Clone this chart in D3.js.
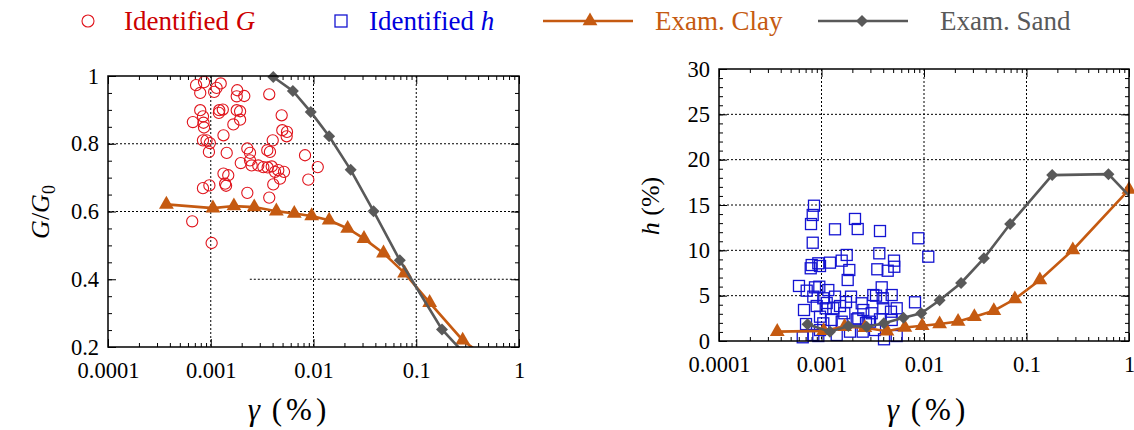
<!DOCTYPE html>
<html>
<head>
<meta charset="utf-8">
<script src="https://cdn.jsdelivr.net/npm/d3@7"></script>
<style>
  body { margin: 0; background: #fff; }
</style>
</head>
<body>
<div id="chart"></div>
<script>
// x axis (shear strain, %)
var gammaTicks = [0.0001, 0.001, 0.01, 0.1, 1];
var gammaLabels = ["0.0001", "0.001", "0.01", "0.1", "1"];

// left panel y axis
var ratioTicks = [0.2, 0.4, 0.6, 0.8, 1];
var ratioLabels = ["0.2", "0.4", "0.6", "0.8", "1"];
// right panel y axis
var dampTicks = [0, 5, 10, 15, 20, 25, 30];
var dampLabels = ["0", "5", "10", "15", "20", "25", "30"];

// identified G/G0 (red circles)
var gammaG = [0.00072, 0.00086, 0.00079, 0.00108, 0.00114, 0.00125, 0.00181, 0.00179, 0.00212, 0.00371,
  0.00079, 0.00084, 0.00067, 0.00085, 0.00086, 0.00121, 0.00131, 0.0012, 0.00179, 0.00193,
  0.00193, 0.00166, 0.0049, 0.00497, 0.00552, 0.00548, 0.00401, 0.00133, 0.00084, 0.00091,
  0.00098, 0.00096, 0.00143, 0.00227, 0.00241, 0.00355, 0.00377, 0.00827, 0.011, 0.00196,
  0.00241, 0.0025, 0.0029, 0.00325, 0.00358, 0.00392, 0.00422, 0.00454, 0.00516, 0.00472,
  0.00406, 0.0089, 0.00133, 0.00148, 0.00138, 0.00141, 0.00084, 0.00097, 0.00227, 0.00371,
  0.00066, 0.00102];
var ratioG = [0.973, 0.982, 0.950, 0.953, 0.965, 0.978, 0.958, 0.940, 0.941, 0.946,
  0.899, 0.881, 0.864, 0.862, 0.848, 0.899, 0.901, 0.891, 0.899, 0.896,
  0.871, 0.857, 0.884, 0.840, 0.835, 0.822, 0.810, 0.825, 0.810, 0.810,
  0.802, 0.776, 0.773, 0.786, 0.773, 0.781, 0.776, 0.766, 0.731, 0.743,
  0.751, 0.736, 0.736, 0.731, 0.730, 0.733, 0.717, 0.722, 0.717, 0.697,
  0.680, 0.694, 0.712, 0.707, 0.682, 0.676, 0.669, 0.677, 0.655, 0.641,
  0.571, 0.507];

// identified h (blue squares)
var gammaH = [0.000845, 0.000821, 0.00079, 0.000821, 0.001354, 0.002122, 0.002256, 0.003721, 0.0088, 0.01101,
  0.000802, 0.000931, 0.000785, 0.000967, 0.00121, 0.001574, 0.001762, 0.001867, 0.001801, 0.003664,
  0.003503, 0.004425, 0.005097, 0.005131, 0.000603, 0.000717, 0.000864, 0.000952, 0.001165, 0.000832,
  0.001041, 0.001354, 0.00194, 0.002467, 0.003402, 0.003867, 0.003954, 0.000675, 0.000898, 0.001099,
  0.001303, 0.001669, 0.002286, 0.003089, 0.004009, 0.004764, 0.005416, 0.00817, 0.000967, 0.001257,
  0.001574, 0.002205, 0.002973, 0.003721, 0.00484, 0.000656, 0.000832, 0.000931, 0.000967, 0.001407,
  0.001897, 0.002523, 0.004072, 0.005416, 0.001041, 0.002557, 0.00484, 0.003202, 0.001124, 0.001734,
  0.002718, 0.000706, 0.003327, 0.001515];
var dampH = [14.92, 13.90, 12.90, 10.84, 12.32, 13.46, 12.35, 12.13, 11.33, 9.30,
  8.38, 8.57, 8.02, 8.27, 8.64, 8.86, 9.49, 7.83, 6.73, 9.67,
  7.91, 7.75, 8.86, 8.19, 6.07, 5.55, 5.92, 5.99, 5.62, 4.89,
  4.71, 4.89, 4.89, 4.16, 5.00, 5.92, 4.71, 3.42, 3.86, 3.61,
  3.61, 3.06, 2.50, 3.06, 3.61, 3.23, 3.61, 4.27, 2.68, 2.32,
  2.13, 2.39, 2.13, 2.39, 2.32, 0.41, 0.66, 0.55, 1.21, 0.66,
  1.03, 1.03, 0.19, 0.55, 1.95, 3.42, 5.07, 5.07, 4.19, 4.30,
  1.99, 1.87, 1.21, 3.86];

// examined clay curve
var gammaClay = [0.00037, 0.00105, 0.00168, 0.00265, 0.00435, 0.0065, 0.0096, 0.0142, 0.0215, 0.031, 0.048, 0.077, 0.135, 0.283, 1.0];
var ratioClay = [0.621, 0.610, 0.616, 0.613, 0.601, 0.594, 0.587, 0.574, 0.550, 0.520, 0.477, 0.418, 0.331, 0.220, 0.096];
var dampClay = [1.03, 1.12, 1.58, 1.46, 1.07, 1.49, 1.69, 1.87, 2.15, 2.68, 3.34, 4.63, 6.73, 10.04, 16.7];

// examined sand curve
var gammaSand = [0.00073, 0.00121, 0.00183, 0.00276, 0.00406, 0.0063, 0.0094, 0.0142, 0.0230, 0.0384, 0.0692, 0.178, 0.63, 1.2];
var ratioSand = [null, null, null, null, 0.997, 0.956, 0.894, 0.822, 0.723, 0.601, 0.456, 0.252, 0.072, null];
var dampSand = [1.84, 1.03, 1.65, 1.58, 1.95, 2.57, 3.05, 4.5, 6.4, 9.12, 12.9, 18.3, 18.4, 15.1];

var clayColor = "#c55a11";
var sandColor = "#595959";
var redColor = "#e0141c";
var blueColor = "#1414d2";
var serif = "'Liberation Serif'";

var svg = d3.select("#chart").append("svg")
  .attr("width", 1134).attr("height", 430)
  .style("font-family", serif)
  .style("background", "#fff");

var triangle = d3.symbol().type(d3.symbolTriangle).size(95);
var diamond = d3.symbol().type(d3.symbolSquare).size(72);

function isDecade(d) {
  var l = Math.log10(d);
  return Math.abs(l - Math.round(l)) < 1e-6;
}

function drawPanel(p) {
  var x = d3.scaleLog().domain([gammaTicks[0], gammaTicks[gammaTicks.length - 1]]).range([p.left, p.right]);
  var y = d3.scaleLinear().domain([p.yTicks[0], p.yTicks[p.yTicks.length - 1]]).range([p.bottom, p.top]);
  var g = svg.append("g");

  // clip for lines
  g.append("clipPath").attr("id", p.id + "clip")
    .append("rect").attr("x", p.left).attr("y", p.top)
    .attr("width", p.right - p.left).attr("height", p.bottom - p.top);

  // dotted grid
  var grid = g.append("g").attr("stroke", "#000").attr("stroke-width", 1).attr("stroke-dasharray", "2,2");
  grid.selectAll("line.vx").data(gammaTicks.slice(1, -1)).join("line").attr("class", "vx")
    .attr("x1", d => x(d)).attr("x2", d => x(d)).attr("y1", p.top).attr("y2", p.bottom);
  grid.selectAll("line.hy").data(p.yTicks.slice(1, -1)).join("line").attr("class", "hy")
    .attr("x1", d => (p.gridFrom && p.gridFrom[d]) ? x(p.gridFrom[d]) : p.left)
    .attr("x2", p.right).attr("y1", d => y(d)).attr("y2", d => y(d));

  // axes with inward ticks on all sides
  var minorX = x.ticks().filter(d => !isDecade(d));
  var minorY = d3.range(p.yTicks[0], p.yTicks[p.yTicks.length - 1] + 1e-9, p.minorStep);
  function addAxis(axis, tr) {
    var a = g.append("g").attr("transform", tr).call(axis);
    a.select(".domain").remove();
    a.selectAll("line").attr("stroke", "#000").attr("stroke-width", 1);
    a.attr("font-family", null).attr("font-size", null);
    a.selectAll("text").attr("fill", "#000").style("font-family", serif).style("font-size", "22.5px");
    return a;
  }
  addAxis(d3.axisBottom(x).tickValues(gammaTicks).tickSize(-8).tickPadding(15)
    .tickFormat((d, i) => gammaLabels[i]), "translate(0," + p.bottom + ")");
  addAxis(d3.axisBottom(x).tickValues(minorX).tickSize(-4).tickFormat(""), "translate(0," + p.bottom + ")");
  addAxis(d3.axisTop(x).tickValues(gammaTicks).tickSize(-8).tickFormat(""), "translate(0," + p.top + ")");
  addAxis(d3.axisTop(x).tickValues(minorX).tickSize(-4).tickFormat(""), "translate(0," + p.top + ")");
  addAxis(d3.axisLeft(y).tickValues(p.yTicks).tickSize(-8).tickPadding(9)
    .tickFormat((d, i) => p.yLabels[i]), "translate(" + p.left + ",0)");
  addAxis(d3.axisLeft(y).tickValues(minorY).tickSize(-4).tickFormat(""), "translate(" + p.left + ",0)");
  addAxis(d3.axisRight(y).tickValues(p.yTicks).tickSize(-8).tickFormat(""), "translate(" + p.right + ",0)");
  addAxis(d3.axisRight(y).tickValues(minorY).tickSize(-4).tickFormat(""), "translate(" + p.right + ",0)");

  // identified scatter
  var pts = p.scatterX.map((v, i) => [v, p.scatterY[i]]);
  if (p.scatterShape === "circle") {
    g.append("g").selectAll("circle").data(pts).join("circle")
      .attr("cx", d => x(d[0])).attr("cy", d => y(d[1])).attr("r", 5.6)
      .attr("fill", "none").attr("stroke", redColor).attr("stroke-width", 1.1);
  } else {
    g.append("g").selectAll("rect").data(pts).join("rect")
      .attr("x", d => x(d[0]) - 5.5).attr("y", d => y(d[1]) - 5.5)
      .attr("width", 11).attr("height", 11)
      .attr("fill", "none").attr("stroke", blueColor).attr("stroke-width", 1.3);
  }

  // examined curves
  var inY = v => v != null && v >= y.domain()[0] && v <= y.domain()[1];
  function curve(xs, ys, color, sym, rot) {
    var data = xs.map((v, i) => [v, ys[i]]);
    var line = d3.line().defined(d => d[1] != null).x(d => x(d[0])).y(d => y(d[1]));
    g.append("path").datum(data).attr("d", line)
      .attr("clip-path", "url(#" + p.id + "clip)")
      .attr("fill", "none").attr("stroke", color).attr("stroke-width", 2.6);
    g.append("g").selectAll("path").data(data.filter(d => inY(d[1]) && d[0] <= 1))
      .join("path").attr("d", sym)
      .attr("transform", d => "translate(" + x(d[0]) + "," + y(d[1]) + ") rotate(" + rot + ")")
      .attr("fill", color);
  }
  curve(gammaClay, p.clayY, clayColor, triangle, 0);
  curve(gammaSand, p.sandY, sandColor, diamond, 45);

  // frame
  g.append("rect").attr("x", p.left).attr("y", p.top)
    .attr("width", p.right - p.left).attr("height", p.bottom - p.top)
    .attr("fill", "none").attr("stroke", "#000").attr("stroke-width", 1.5);

  // x title
  var xt = g.append("text").attr("x", p.xTitleX).attr("y", 420).attr("text-anchor", "middle")
    .style("font-size", "31px");
  xt.append("tspan").attr("font-style", "italic").text("γ");
  xt.append("tspan").attr("letter-spacing", 4).text("\u00a0(%)");

  // y title
  var yt = g.append("text")
    .attr("transform", "translate(" + p.yTitleX + "," + p.yTitleY + ") rotate(-90)")
    .attr("text-anchor", "middle").style("font-size", "26px");
  p.yTitle(yt);
}

drawPanel({
  id: "gg", left: 108, right: 519, top: 76, bottom: 347,
  yTicks: ratioTicks, yLabels: ratioLabels, minorStep: 0.05,
  gridFrom: { 0.4: 0.0024 },
  scatterX: gammaG, scatterY: ratioG, scatterShape: "circle",
  clayY: ratioClay, sandY: ratioSand,
  xTitleX: 289, yTitleX: 49, yTitleY: 212,
  yTitle: function (t) {
    t.append("tspan").attr("font-style", "italic").text("G");
    t.append("tspan").text("/");
    t.append("tspan").attr("font-style", "italic").text("G");
    t.append("tspan").style("font-size", "18px").attr("dy", 6).text("0");
  }
});

drawPanel({
  id: "hh", left: 719, right: 1129, top: 69, bottom: 341,
  yTicks: dampTicks, yLabels: dampLabels, minorStep: 1,
  scatterX: gammaH, scatterY: dampH, scatterShape: "square",
  clayY: dampClay, sandY: dampSand,
  xTitleX: 928, yTitleX: 659, yTitleY: 206,
  yTitle: function (t) {
    t.append("tspan").attr("font-style", "italic").text("h");
    t.append("tspan").text(" (%)");
  }
});

// legend
var legend = svg.append("g").style("font-size", "27px");
legend.append("circle").attr("cx", 88).attr("cy", 21).attr("r", 6)
  .attr("fill", "none").attr("stroke", redColor).attr("stroke-width", 1.1);
var lt1 = legend.append("text").attr("x", 124).attr("y", 30).attr("fill", "#cc0000");
lt1.append("tspan").text("Identified ");
lt1.append("tspan").attr("font-style", "italic").text("G");

legend.append("rect").attr("x", 335).attr("y", 15).attr("width", 12).attr("height", 12)
  .attr("fill", "none").attr("stroke", blueColor).attr("stroke-width", 1.3);
var lt2 = legend.append("text").attr("x", 369).attr("y", 30).attr("fill", "#0000dd");
lt2.append("tspan").text("Identified ");
lt2.append("tspan").attr("font-style", "italic").text("h");

legend.append("line").attr("x1", 543).attr("x2", 633).attr("y1", 21).attr("y2", 21)
  .attr("stroke", clayColor).attr("stroke-width", 2.6);
legend.append("path").attr("d", triangle).attr("transform", "translate(590,21)").attr("fill", clayColor);
legend.append("text").attr("x", 655).attr("y", 30).attr("fill", clayColor).text("Exam. Clay");

legend.append("line").attr("x1", 818).attr("x2", 908).attr("y1", 21).attr("y2", 21)
  .attr("stroke", sandColor).attr("stroke-width", 2.6);
legend.append("path").attr("d", diamond).attr("transform", "translate(862,21) rotate(45)").attr("fill", sandColor);
legend.append("text").attr("x", 940).attr("y", 30).attr("fill", sandColor).text("Exam. Sand");
</script>
</body>
</html>
